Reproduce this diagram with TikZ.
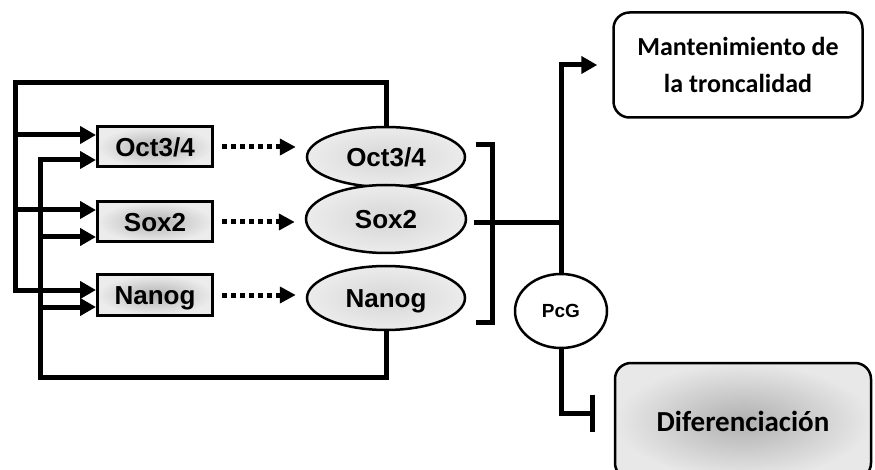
\documentclass[tikz,border=0pt]{standalone}
\usepackage{fontspec}
\setmainfont{Liberation Sans}
\newfontfamily\calibri{Carlito}
\usetikzlibrary{arrows.meta, positioning, shapes.geometric}

\begin{document}
\begin{tikzpicture}[
    x=1pt, y=-1pt,
    genebox/.style={draw, line width=3pt, inner color=gray!60, outer color=gray!15, minimum width=115pt, minimum height=40pt, inner sep=0pt, text height=18.6pt, text depth=0pt, font=\fontsize{26}{28}\selectfont\bfseries},
    protein/.style={ellipse, draw, line width=2.5pt, inner color=gray!32, outer color=gray!15, minimum width=158pt, inner sep=0pt, text height=18.6pt, text depth=0pt, font=\fontsize{26}{28}\selectfont\bfseries},
    outcome/.style={draw, line width=2.5pt, rounded corners=16pt, inner sep=0pt, align=center, font=\calibri\fontsize{26}{37}\selectfont\bfseries},
    line/.style={line width=5pt, line cap=rect},
    arrow/.style={line, -{Triangle[length=16pt, width=17pt]}},
    dotarrow/.style={line width=5pt, line cap=butt, dash pattern=on 5pt off 4pt, -{Triangle[length=16pt, width=16pt]}},
    inhibit/.style={line, -{Bar[width=37pt]}}
]
    \useasboundingbox (0,0) rectangle (875,470);

    % genes and proteins
    \node[genebox] (g-oct) at (155,147) {Oct3/4};
    \node[genebox] (g-sox) at (155,222) {Sox2};
    \node[genebox] (g-nan) at (155,295) {Nanog};
    \node[protein, minimum height=60pt] (p-oct) at (386,157) {Oct3/4};
    \node[protein, minimum width=160pt, minimum height=68pt] (p-sox) at (386,219) {Sox2};
    \node[protein, minimum height=64pt] (p-nan) at (386,298) {Nanog};
    \node[ellipse, draw, line width=2.5pt, fill=white, minimum width=92pt, minimum height=74pt, inner sep=0pt, text height=13.6pt, text depth=0pt, font=\fontsize{19}{21}\selectfont\bfseries] (pcg) at (561,311) {PcG};

    % outcomes
    \node[outcome, fill=white, minimum width=249pt, minimum height=105pt] (mant) at (738,65) {Mantenimiento de\\la troncalidad};
    \node[outcome, inner color=gray!62, outer color=gray!18, minimum width=256pt, minimum height=116pt, font=\calibri\fontsize{29}{32}\selectfont\bfseries] (dif) at (743,421) {Diferenciación};

    % feedback loops
    \coordinate (busA) at (15,83);
    \coordinate (busB) at (40,377);
    \coordinate (octA) at ([yshift=12pt]g-oct.west);
    \coordinate (octB) at ([yshift=-13pt]g-oct.west);
    \coordinate (soxA) at ([yshift=12pt]g-sox.west);
    \coordinate (soxB) at ([yshift=-15pt]g-sox.west);
    \coordinate (nanA) at ([yshift=5pt]g-nan.west);
    \coordinate (nanB) at ([yshift=-12pt]g-nan.west);

    \draw[line] (p-oct.north) |- (busA) -- (busA |- nanA);
    \draw[line] (p-nan.south) |- (busB) -- (busB |- octB);
    \foreach \c in {octA, soxA, nanA}
        \draw[arrow] (busA |- \c) -- (\c);
    \foreach \c in {octB, soxB, nanB}
        \draw[arrow] (busB |- \c) -- (\c);

    % expression
    \foreach \g/\p in {g-oct/p-oct, g-sox/p-sox, g-nan/p-nan}
        \draw[dotarrow, shorten <=8pt, shorten >=10pt] (\g.east) -- (\g.east -| \p.west);

    % complex and targets
    \coordinate (brTop) at (476,145);
    \coordinate (brBot) at (476,322);
    \coordinate (brMid) at (476,223);
    \draw[line, line cap=butt] (brTop) -- ++(16,0) |- (brBot);
    \draw[line] (brMid) -- (brMid -| pcg.north);
    \draw[arrow, shorten >=15pt] (pcg.north) |- (mant.west);
    \draw[inhibit, shorten >=19pt] (pcg.south) |- ([yshift=8pt]dif.west);
\end{tikzpicture}
\end{document}
